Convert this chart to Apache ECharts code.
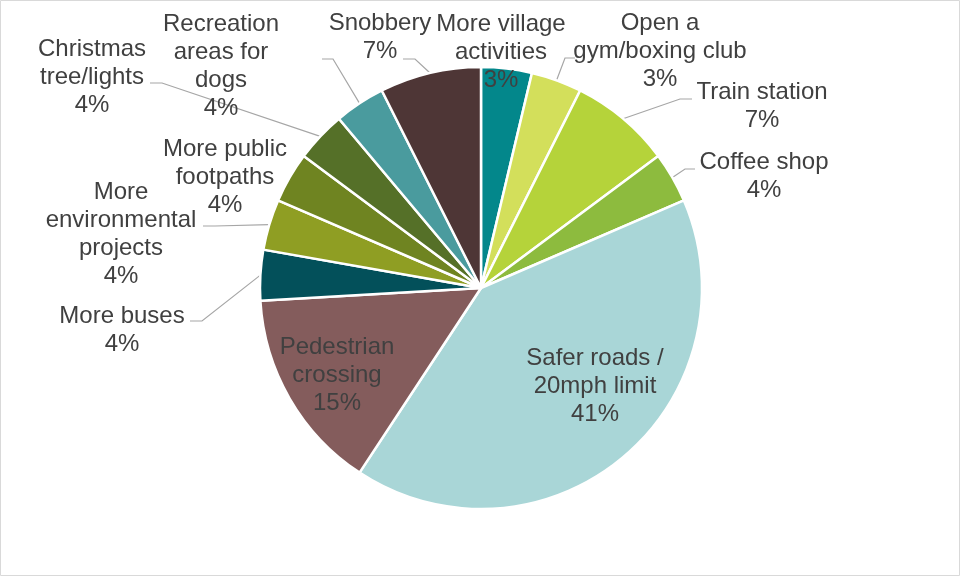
<!DOCTYPE html>
<html>
<head>
<meta charset="utf-8">
<script src="https://cdn.jsdelivr.net/npm/echarts@6/dist/echarts.min.js"></script>
<style>
  html, body { margin: 0; padding: 0; background: #fff; }
  #chart { width: 961px; height: 577px; }
</style>
</head>
<body>
<div id="chart"></div>
<script>
// slices, clockwise from 12 o'clock
const categories = [
  'More village\nactivities',
  'Open a\ngym/boxing club',
  'Train station',
  'Coffee shop',
  'Safer roads /\n20mph limit',
  'Pedestrian\ncrossing',
  'More buses',
  'More\nenvironmental\nprojects',
  'More public\nfootpaths',
  'Christmas\ntree/lights',
  'Recreation\nareas for\ndogs',
  'Snobbery'
];
// number of responses (27 in total)
const responses = [1, 1, 2, 1, 11, 4, 1, 1, 1, 1, 1, 2];
// percentage labels as printed on the chart
const pctLabels = ['3%', '3%', '7%', '4%', '41%', '15%', '4%', '4%', '4%', '4%', '4%', '7%'];

const colors = [
  '#03878b', '#d3df5b', '#b5d33a', '#8dbb3e', '#a9d6d7', '#845c5c',
  '#03505a', '#8f9e23', '#6f8421', '#557028', '#4a9b9e', '#4e3636'
];

// where the labels sit (text block centre)
const labelPos = [
  [501, 52], [660, 51], [762, 106], [764, 176], [595, 386], [337, 375],
  [122, 330], [121, 234], [225, 177], [92, 77], [221, 66], [380, 37]
];
// leader line: elbow and end next to the label (null = no leader)
const leaderEnds = [
  null,
  [[565, 58], [575, 58]],
  [[680, 99], [692, 99]],
  [[685, 169], [695, 169]],
  null,
  null,
  [[202, 321], [190, 321]],
  [[215, 226], [203, 226]],
  null,
  [[162, 83], [150, 83]],
  [[333, 59], [322, 59]],
  [[415, 59], [403, 59]]
];

const chart = echarts.init(document.getElementById('chart'));

chart.setOption({
  animation: false,
  graphic: [{
    type: 'rect',
    shape: { x: 0.5, y: 0.5, width: 959, height: 575 },
    style: { fill: 'none', stroke: '#d9d9d9', lineWidth: 1 }
  }],
  series: [{
    type: 'pie',
    center: [481, 288],
    radius: [0, 221],
    startAngle: 90,
    clockwise: true,
    avoidLabelOverlap: false,
    itemStyle: { borderColor: '#fff', borderWidth: 2.5 },
    label: {
      show: true,
      color: '#404040',
      fontFamily: 'Liberation Sans, Arial, sans-serif',
      fontSize: 24,
      lineHeight: 28,
      align: 'center',
      formatter: function (p) {
        return p.name + '\n' + pctLabels[p.dataIndex];
      }
    },
    labelLine: {
      show: true,
      length: 10,
      length2: 10,
      lineStyle: { color: '#a6a6a6', width: 1.2 }
    },
    labelLayout: function (p) {
      const i = p.dataIndex;
      const pos = labelPos[i];
      const out = { x: pos[0], y: pos[1], align: 'center', verticalAlign: 'middle' };
      if (leaderEnds[i] && p.labelLinePoints) {
        out.labelLinePoints = [p.labelLinePoints[0], leaderEnds[i][0], leaderEnds[i][1]];
      }
      return out;
    },
    data: categories.map(function (name, i) {
      return {
        name: name,
        value: responses[i],
        itemStyle: { color: colors[i] },
        labelLine: { show: leaderEnds[i] != null }
      };
    })
  }]
});
</script>
</body>
</html>
